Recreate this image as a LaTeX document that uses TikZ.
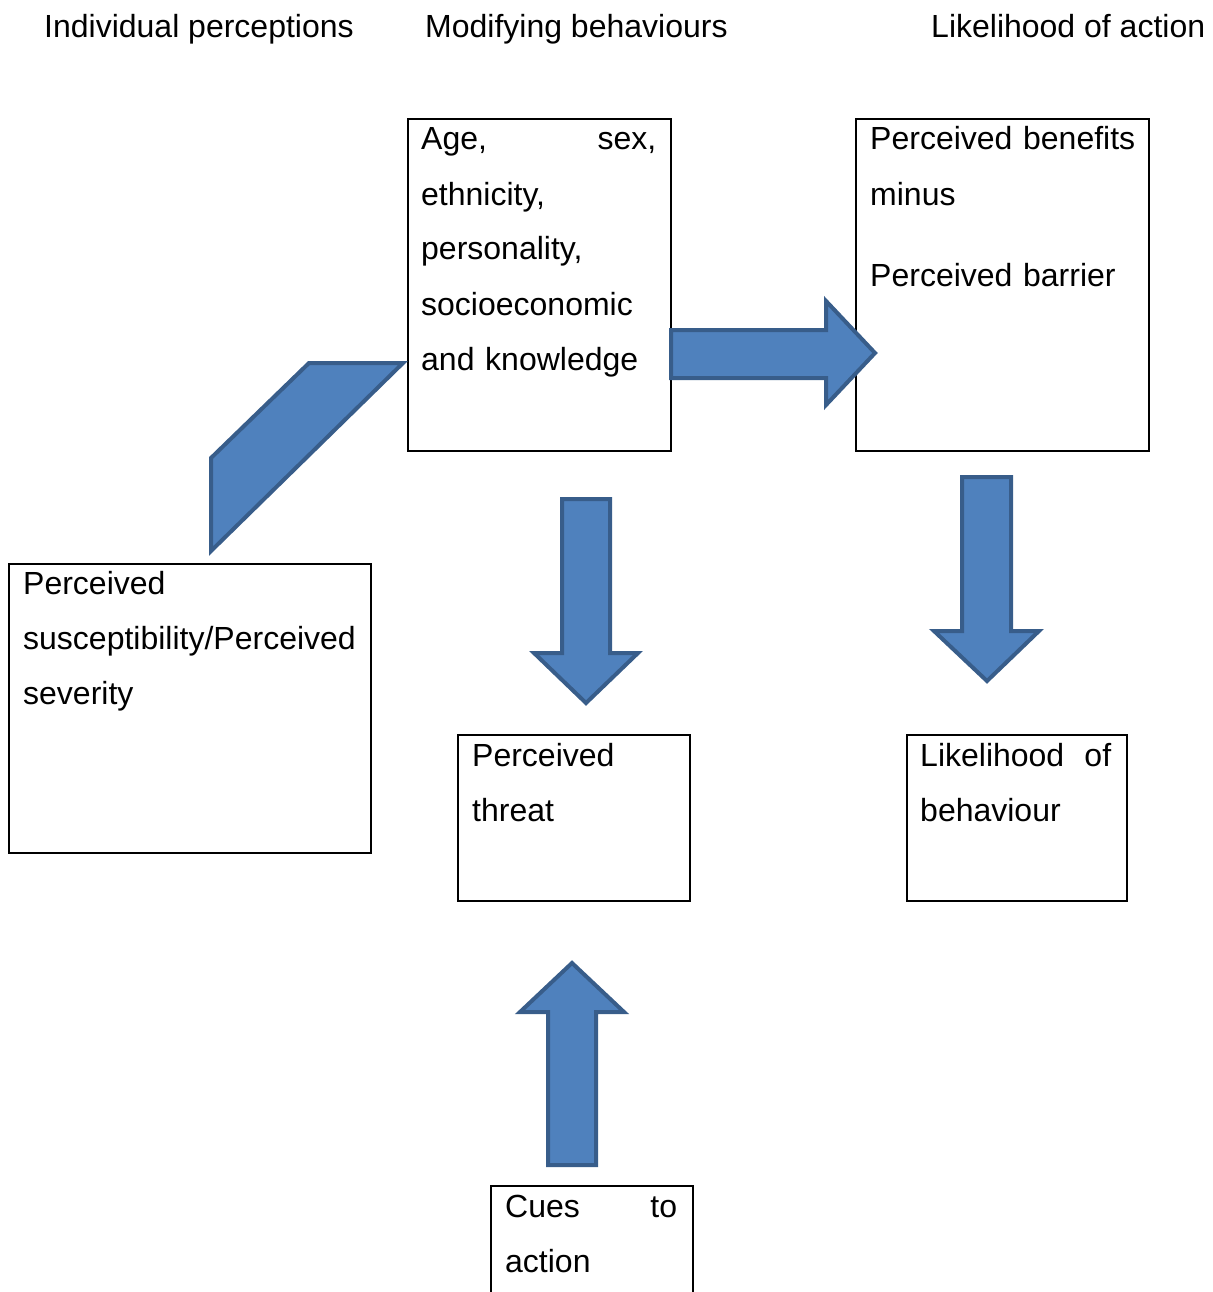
\documentclass[tikz,border=0pt]{standalone}
\usepackage{fontspec}
\setmainfont{Liberation Sans}
\usepackage{xcolor}
\usetikzlibrary{positioning}
\definecolor{arrowfill}{HTML}{4F81BD}
\definecolor{arrowline}{HTML}{385D8A}

\begin{document}
\begin{tikzpicture}[x=1pt, y=-1pt,
    box/.style={draw=black, line width=2pt, anchor=north west, inner sep=0pt},
    txt/.style={anchor=base west, inner sep=0pt, align=left, font=\fontsize{32}{55}\selectfont},
    blockarrow/.style={fill=arrowfill, draw=arrowline, line width=4pt, line join=miter}]
    \clip (0,0) rectangle (1212,1292);

    % headings
    \node[txt] (hind) at (44,38) {Individual perceptions};
    \node[txt] (hmod) at (425,38) {Modifying behaviours};
    \node[txt] (hlik) at (931,38) {Likelihood of action};

    % boxes
    \node[box, minimum width=263pt, minimum height=332pt] (modbox) at (407,118) {};
    \node[box, minimum width=293pt, minimum height=332pt] (benbox) at (855,118) {};
    \node[box, minimum width=362pt, minimum height=289pt] (susbox) at (8,563) {};
    \node[box, minimum width=232pt, minimum height=166pt] (thrbox) at (457,734) {};
    \node[box, minimum width=220pt, minimum height=166pt] (likbox) at (906,734) {};
    \node[box, minimum width=202pt, minimum height=140pt] (cuebox) at (490,1185) {};

    % box texts
    \node[txt, text width=235pt] (modtxt) at (421,150)
        {Age,\hfill sex,\\ ethnicity,\\ personality,\\ socioeconomic\\ and knowledge};
    \node[txt, text width=270pt] (bentxt) at (870,150)
        {Perceived benefits\\ minus\\[27pt] Perceived barrier};
    \node[txt, text width=340pt] (sustxt) at (23,594)
        {Perceived\\ susceptibility/Perceived\\ severity};
    \node[txt, text width=210pt] (thrtxt) at (472,766) {Perceived\\ threat};
    \node[txt, text width=191pt] (liktxt) at (920,766) {Likelihood\hfill of\\ behaviour};
    \node[txt, text width=172pt] (cuetxt) at (505,1217) {Cues\hfill to\\ action};

    % block arrows
    \draw[blockarrow] (211,551) -- (211,458) -- (309,363) -- (403,363) -- cycle;
    \draw[blockarrow] (671,330) -- (826,330) -- (826,301) -- (875,353)
        -- (826,405) -- (826,378) -- (671,378) -- cycle;
    \draw[blockarrow] (562,499) -- (610,499) -- (610,653) -- (638,653)
        -- (586,703) -- (534,653) -- (562,653) -- cycle;
    \draw[blockarrow] (962,477) -- (1011,477) -- (1011,631) -- (1039,631)
        -- (987,681) -- (934,631) -- (962,631) -- cycle;
    \draw[blockarrow] (548,1165) -- (596,1165) -- (596,1012) -- (624,1012)
        -- (572,963) -- (520,1012) -- (548,1012) -- cycle;
\end{tikzpicture}
\end{document}
